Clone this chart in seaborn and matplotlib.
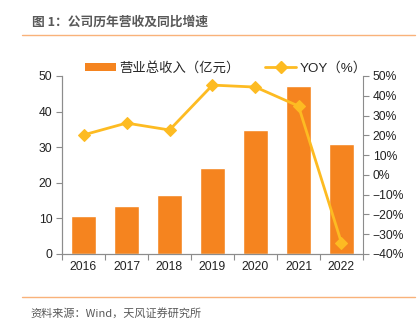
import numpy as np
import pandas as pd
import matplotlib
matplotlib.use("Agg")
import matplotlib.pyplot as plt
from matplotlib.lines import Line2D
from matplotlib.patches import Patch
from matplotlib.ticker import FixedLocator, PercentFormatter
import seaborn as sns

# Annual revenue (100m CNY) and year-over-year growth
years = ["2016", "2017", "2018", "2019", "2020", "2021", "2022"]
revenue = [10.7, 13.5, 16.6, 24.2, 34.8, 47.2, 30.9]
yoy_pct = [20.2, 26.2, 22.7, 45.4, 44.4, 34.8, -34.4]

title_text = "图 1：公司历年营收及同比增速"
source_text = "资料来源：Wind，天风证券研究所"
bar_label = "营业总收入（亿元）"
line_label = "YOY（%）"

bar_color = "#F5841F"
line_color = "#FDBB22"
rule_color = "#F9B27A"
axis_color = "#8C8C8C"

sns.set_theme(style="white")
plt.rcParams["font.family"] = ["Liberation Sans", "Noto Sans CJK SC", "DejaVu Sans"]

df = pd.DataFrame({"year": years, "revenue": revenue, "yoy": yoy_pct})
df["pos"] = np.arange(len(years))

fig = plt.figure(figsize=(4.17, 3.25), dpi=100)
ax = fig.add_axes([62 / 417, 1 - 254 / 325, 301 / 417, 178 / 325])

sns.barplot(data=df, x="year", y="revenue", color=bar_color, width=0.6,
            saturation=1, ax=ax)
ax.set_ylim(0, 50)
ax.set_yticks(np.arange(0, 51, 10))
ax.set_xlim(-0.5, len(years) - 0.5)
ax.set_xlabel("")
ax.set_ylabel("")

# Category boundaries carry the x ticks, labels sit centred under bars
ax.xaxis.set_major_locator(FixedLocator(df["pos"].values))
ax.set_xticklabels(years)
ax.xaxis.set_minor_locator(FixedLocator(np.arange(-0.5, len(years), 1.0)))
ax.tick_params(axis="x", which="major", length=0, pad=5, labelsize=8.7, colors="#222222")
ax.tick_params(axis="x", which="minor", length=4, width=0.8, color=axis_color, bottom=True)
ax.tick_params(axis="y", length=4, width=0.8, color=axis_color, left=True,
               labelsize=8.7, labelcolor="#222222", pad=3)

ax2 = ax.twinx()
sns.lineplot(data=df, x="pos", y="yoy", color=line_color, linewidth=2,
             marker="D", markersize=6, markeredgecolor=line_color, ax=ax2)
ax2.set_ylim(-40, 50)
ax2.set_yticks(np.arange(-40, 51, 10))
ax2.yaxis.set_major_formatter(PercentFormatter(decimals=0))
ax2.set_ylabel("")
ax2.set_xlabel("")
ax2.set_xlim(-0.5, len(years) - 0.5)
ax2.tick_params(axis="y", length=4, width=0.8, color=axis_color, right=True,
                labelsize=8.7, labelcolor="#222222", pad=3)
ax2.grid(False)
ax.grid(False)

for a in (ax, ax2):
    a.spines["top"].set_visible(False)
    for s in ("left", "right", "bottom"):
        a.spines[s].set_color(axis_color)
        a.spines[s].set_linewidth(0.8)
ax.spines["right"].set_visible(False)

handles = [
    Patch(facecolor=bar_color, edgecolor="none", label=bar_label),
    Line2D([0], [0], color=line_color, lw=2, marker="D", markersize=6, label=line_label),
]
leg = fig.legend(handles=handles, loc="center", bbox_to_anchor=(0.542, 1 - 68 / 325),
                 ncol=2, frameon=False, fontsize=9.6, handlelength=2.3,
                 handleheight=0.6, columnspacing=1.9, handletextpad=0.3)

# Title, rules and source note
fig.text(32 / 417, 1 - 22 / 325, title_text, fontsize=9.2, fontweight="bold",
         color="#595959", va="center", ha="left",
         family=["Noto Sans CJK SC", "DejaVu Sans"])
fig.add_artist(Line2D([22 / 417, 415 / 417], [1 - 35 / 325] * 2, color=rule_color, lw=1))
fig.add_artist(Line2D([22 / 417, 415 / 417], [1 - 297 / 325] * 2, color=rule_color, lw=1))
fig.text(30 / 417, 1 - 313 / 325, source_text, fontsize=8, color="#595959",
         va="center", ha="left", family=["Noto Sans CJK SC", "DejaVu Sans"])

fig.savefig("out.png", dpi=100)
